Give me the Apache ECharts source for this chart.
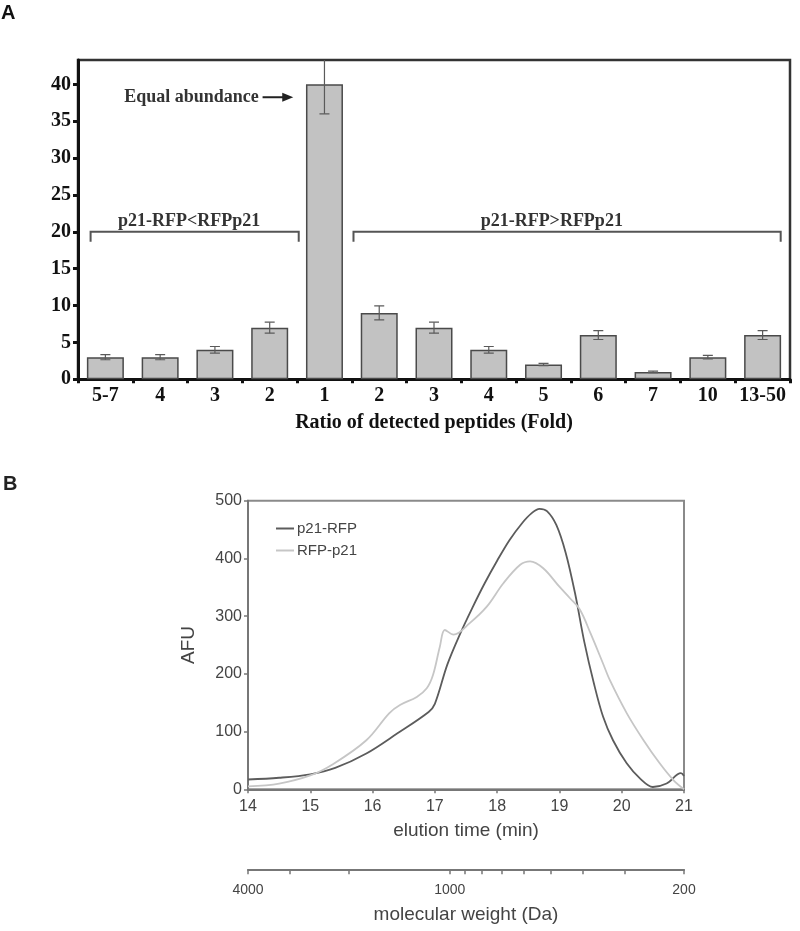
<!DOCTYPE html>
<html>
<head>
<meta charset="utf-8">
<script src="https://cdn.jsdelivr.net/npm/echarts@6/dist/echarts.min.js"></script>
<style>html,body{margin:0;padding:0;background:#fff}#c{width:800px;height:931px}</style>
</head>
<body>
<div id="c"></div>
<script>
// ---------- Panel A data ----------
const foldCategories = ['5-7','4','3','2','1','2','3','4','5','6','7','10','13-50'];
const peptideCounts = [3, 3, 4, 7, 40, 9, 7, 4, 2, 6, 1, 3, 6];
const peptideErrors = [0.35, 0.35, 0.45, 0.75, 4, 0.95, 0.75, 0.45, 0.15, 0.6, 0.1, 0.25, 0.6];
const countTicks = [0, 5, 10, 15, 20, 25, 30, 35, 40];
const bracketLabels = ['p21-RFP<RFPp21', 'p21-RFP>RFPp21'];
const bracketFrom = [-0.27, 4.53];     // category-index units
const bracketTo = [3.53, 12.33];
const bracketLevel = [20, 20];
const bracketLabelAt = [1.53, 8.15];
const arrowLabel = 'Equal abundance';
const arrowTextEnd = 2.8, arrowFrom = 2.87, arrowTo = 3.43, arrowLevel = 38.25;

// ---------- Panel B data ----------
const p21RFP = [[14.0,17],[14.5,20],[15.0,26],[15.4,37],[15.9,62],[16.4,97],[16.9,134],[17.0,148],[17.2,216],[17.4,268],[17.6,314],[17.8,357],[18.0,396],[18.2,432],[18.4,461],[18.55,478],[18.68,486],[18.8,482],[18.95,458],[19.1,410],[19.25,340],[19.4,255],[19.55,185],[19.7,126],[19.86,85],[20.08,45],[20.3,18],[20.5,4],[20.72,10],[20.95,28],[21.0,23]];
const RFPp21 = [[14.0,5],[14.5,10],[15.0,24],[15.37,44],[15.9,85],[16.27,132],[16.44,146],[16.71,160],[16.87,175],[16.97,198],[17.08,247],[17.16,276],[17.3,268],[17.56,288],[17.83,316],[18.1,357],[18.37,389],[18.53,395],[18.74,383],[19.0,351],[19.17,331],[19.33,311],[19.5,270],[19.7,218],[19.81,189],[20.08,132],[20.35,85],[20.61,45],[20.83,16],[21.0,0]];
const mwTicks = [4000, 3000, 2000, 1000, 900, 800, 700, 600, 500, 400, 300, 200];
const mwLabels = [4000, 1000, 200];

const serif = '"Liberation Serif","Times New Roman",serif';
const sans = '"Liberation Sans",Arial,sans-serif';

const chart = echarts.init(document.getElementById('c'), null, {renderer: 'canvas'});

const option = {
  animation: false,
  backgroundColor: '#fff',
  graphic: [
    {type: 'text', left: 1, top: 3, style: {text: 'A', font: 'bold 20px ' + sans, fill: '#111'}},
    {type: 'text', left: 3, top: 474, style: {text: 'B', font: 'bold 20px ' + sans, fill: '#222'}}
  ],
  legend: {
    data: ['p21-RFP', 'RFP-p21'],
    orient: 'vertical',
    left: 271, top: 516,
    icon: 'rect',
    itemWidth: 18, itemHeight: 2, itemGap: 7,
    textStyle: {fontFamily: sans, fontSize: 15, color: '#444', padding: [0,0,0,-2]}
  },
  grid: [
    {left: 78, right: 10, top: 60, bottom: 551.7, show: true, borderColor: '#333', borderWidth: 2.5, containLabel: false},
    {left: 248, width: 436, top: 500.7, height: 288.6, show: true, borderColor: '#8a8a8a', borderWidth: 2, containLabel: false},
    {left: 248, width: 436, top: 868.3, height: 1, show: false, containLabel: false}
  ],
  xAxis: [
    {
      gridIndex: 0, type: 'category', data: foldCategories,
      axisLine: {lineStyle: {color: '#111', width: 3}},
      axisTick: {show: true, length: 4, lineStyle: {color: '#111', width: 3}},
      axisLabel: {margin: 7, fontFamily: serif, fontWeight: 'bold', fontSize: 20, color: '#111', interval: 0},
      name: 'Ratio of detected peptides (Fold)', nameLocation: 'middle', nameGap: 34,
      nameTextStyle: {fontFamily: serif, fontWeight: 'bold', fontSize: 20, color: '#111'}
    },
    {
      gridIndex: 1, type: 'value', min: 14, max: 21, interval: 1,
      splitLine: {show: false},
      axisLine: {lineStyle: {color: '#777', width: 2}},
      axisTick: {length: 4, lineStyle: {color: '#777', width: 1.5}},
      axisLabel: {margin: 9, fontFamily: sans, fontSize: 16, color: '#444'},
      name: 'elution time (min)', nameLocation: 'middle', nameGap: 32,
      nameTextStyle: {fontFamily: sans, fontSize: 19, color: '#444'}
    },
    {
      gridIndex: 2, type: 'value', min: Math.log10(200), max: Math.log10(4000), inverse: true,
      splitLine: {show: false},
      axisLine: {onZero: false, lineStyle: {color: '#777', width: 2}},
      axisTick: {length: 5, customValues: mwTicks.map(v => Math.log10(v)), lineStyle: {color: '#777', width: 1.5}},
      axisLabel: {margin: 14, fontFamily: sans, fontSize: 14, color: '#444',
        customValues: mwLabels.map(v => Math.log10(v)),
        formatter: v => String(Math.round(Math.pow(10, v)))},
      name: 'molecular weight (Da)', nameLocation: 'middle', nameGap: 36,
      nameTextStyle: {fontFamily: sans, fontSize: 19, color: '#444'}
    }
  ],
  yAxis: [
    {
      gridIndex: 0, type: 'value', min: 0, max: 43.3,
      splitLine: {show: false},
      axisLine: {show: true, lineStyle: {color: '#111', width: 3}},
      axisTick: {show: true, length: 5, customValues: countTicks, lineStyle: {color: '#111', width: 3}},
      axisLabel: {margin: 7, customValues: countTicks, fontFamily: serif, fontWeight: 'bold', fontSize: 20, color: '#111'}
    },
    {
      gridIndex: 1, type: 'value', min: 0, max: 500, interval: 100,
      splitLine: {show: false},
      axisLine: {show: true, lineStyle: {color: '#777', width: 2}},
      axisTick: {show: true, length: 4, lineStyle: {color: '#777', width: 1.5}},
      axisLabel: {margin: 6, fontFamily: sans, fontSize: 16, color: '#444'},
      name: 'AFU', nameLocation: 'middle', nameGap: 50, nameRotate: 90,
      nameTextStyle: {fontFamily: sans, fontSize: 19, color: '#444'}
    },
    {gridIndex: 2, type: 'value', show: false, min: 0, max: 1}
  ],
  series: [
    {
      type: 'bar', xAxisIndex: 0, yAxisIndex: 0, data: peptideCounts, barWidth: 37,
      itemStyle: {color: '#c2c2c2', borderColor: '#4a4a4a', borderWidth: 1.5}
    },
    {
      type: 'custom', xAxisIndex: 0, yAxisIndex: 0, clip: true, z: 5,
      data: peptideCounts.map((v, i) => [i, v - peptideErrors[i], v + peptideErrors[i]]),
      encode: {x: 0, y: [1, 2]},
      renderItem: function (params, api) {
        const lo = api.coord([api.value(0), api.value(1)]);
        const hi = api.coord([api.value(0), api.value(2)]);
        const w = 5;
        const st = {stroke: '#5a5a5a', lineWidth: 1.2};
        return {type: 'group', children: [
          {type: 'line', shape: {x1: lo[0], y1: lo[1], x2: hi[0], y2: hi[1]}, style: st},
          {type: 'line', shape: {x1: lo[0]-w, y1: lo[1], x2: lo[0]+w, y2: lo[1]}, style: st},
          {type: 'line', shape: {x1: hi[0]-w, y1: hi[1], x2: hi[0]+w, y2: hi[1]}, style: st}
        ]};
      }
    },
    {
      type: 'custom', xAxisIndex: 0, yAxisIndex: 0, z: 6, silent: true,
      data: bracketLevel.map(v => [0, v]),
      encode: {x: 0, y: 1},
      renderItem: function (params, api) {
        const i = params.dataIndex;
        const base = api.coord([0, bracketLevel[i]]);
        const bw = api.size([1, 0])[0];
        const drop = api.size([0, 1.35])[1];
        const x1 = base[0] + bracketFrom[i] * bw, x2 = base[0] + bracketTo[i] * bw, y = base[1];
        return {type: 'group', children: [
          {type: 'polyline', shape: {points: [[x1, y + drop], [x1, y], [x2, y], [x2, y + drop]]},
           style: {stroke: '#555', lineWidth: 2, fill: null}},
          {type: 'text', x: base[0] + bracketLabelAt[i] * bw, y: y - 10,
           style: {text: bracketLabels[i], font: 'bold 18px ' + serif, fill: '#333', align: 'center', verticalAlign: 'middle'}}
        ]};
      }
    },
    {
      type: 'custom', xAxisIndex: 0, yAxisIndex: 0, z: 6, silent: true,
      data: [[0, arrowLevel]],
      encode: {x: 0, y: 1},
      renderItem: function (params, api) {
        const base = api.coord([0, arrowLevel]);
        const bw = api.size([1, 0])[0];
        const y = base[1];
        const xt = base[0] + arrowTextEnd * bw;
        const xa = base[0] + arrowFrom * bw;
        const xb = base[0] + arrowTo * bw;
        return {type: 'group', children: [
          {type: 'text', x: xt, y: y,
           style: {text: arrowLabel, font: 'bold 18px ' + serif, fill: '#333', align: 'right', verticalAlign: 'middle'}},
          {type: 'line', shape: {x1: xa, y1: y, x2: xb - 8, y2: y}, style: {stroke: '#222', lineWidth: 2}},
          {type: 'polygon', shape: {points: [[xb, y], [xb - 11, y - 4.5], [xb - 11, y + 4.5]]}, style: {fill: '#222'}}
        ]};
      }
    },
    {
      name: 'p21-RFP', type: 'line', xAxisIndex: 1, yAxisIndex: 1, data: p21RFP,
      smooth: 0.35, symbol: 'none', lineStyle: {color: '#5c5c5c', width: 1.8}, itemStyle: {color: '#5c5c5c'}
    },
    {
      name: 'RFP-p21', type: 'line', xAxisIndex: 1, yAxisIndex: 1, data: RFPp21,
      smooth: 0.35, symbol: 'none', lineStyle: {color: '#c6c6c6', width: 1.8}, itemStyle: {color: '#c6c6c6'}
    },
    {type: 'line', xAxisIndex: 2, yAxisIndex: 2, data: [], symbol: 'none'}
  ]
};
chart.setOption(option);
</script>
</body>
</html>
